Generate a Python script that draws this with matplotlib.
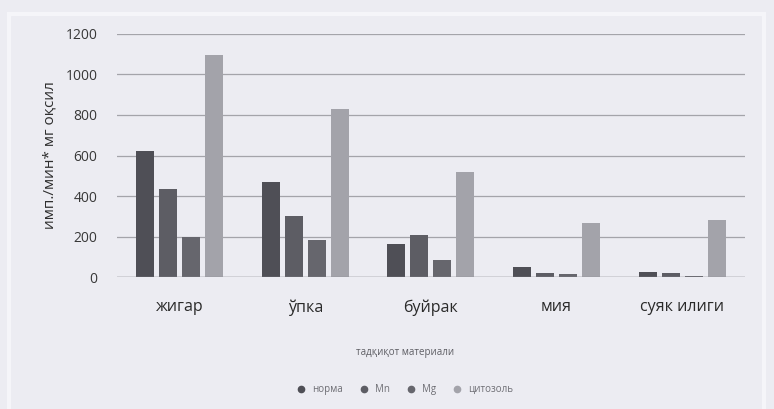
import matplotlib
matplotlib.use("Agg")
import matplotlib.pyplot as plt
from matplotlib.lines import Line2D
from matplotlib.patches import Rectangle
import numpy as np

plt.rcParams["font.family"] = ["Open Sans", "DejaVu Sans"]

# tissue samples along x, four treatment series
organs = ["жигар", "ўпка", "буйрак", "мия", "суяк илиги"]
series_names = ["норма", "Mn", "Mg", "цитозоль"]
norma = [620, 470, 165, 50, 25]
mn = [435, 300, 205, 20, 20]
mg = [200, 185, 85, 15, 5]
cytosol = [1095, 830, 520, 265, 280]
values = [norma, mn, mg, cytosol]
colors = ["#4f4f56", "#5d5d64", "#66666d", "#a3a3aa"]

BG = "#ececf2"

fig = plt.figure(figsize=(7.74, 4.09), dpi=100, facecolor=BG)

# faint frame of the chart area
fig.patches.append(Rectangle((0.012, -0.02), 0.975, 0.985, transform=fig.transFigure,
                             facecolor="none", edgecolor="#f5f5f9", linewidth=3))

ax = fig.add_axes([0.151, 0.3227, 0.8115, 0.5942], facecolor=BG)

x = np.arange(len(organs))
step = 0.183
width = 0.143
for i, (vals, c) in enumerate(zip(values, colors)):
    ax.bar(x + (i - 1.5) * step, vals, width, color=c, zorder=3)

ax.set_xlim(-0.5, len(organs) - 0.5)
ax.set_ylim(0, 1200)
ax.set_yticks(range(0, 1201, 200))
ax.yaxis.grid(True, color="#a4a4aa", linewidth=0.9, zorder=0)
ax.axhline(0, color="#8c8c92", linewidth=1.0, zorder=4)
for s in ax.spines.values():
    s.set_visible(False)
ax.tick_params(axis="both", length=0)
ax.tick_params(axis="y", labelsize=10, labelcolor="#383838", pad=14)
ax.tick_params(axis="x", labelsize=11.5, labelcolor="#2a2a2a", pad=16)
ax.set_xticks(x)
ax.set_xticklabels(organs)
ax.set_ylabel("имп./мин* мг оқсил", fontsize=11, color="#2e2e2e", labelpad=6)

# axis title and legend below the plot, small and faint
fig.text(0.523, 0.137, "тадқиқот материали", ha="center", va="center",
         fontsize=7, color="#5e5e64")
handles = [Line2D([], [], marker="o", linestyle="none", markersize=4.5,
                  markerfacecolor=c, markeredgecolor=c) for c in colors]
fig.legend(handles, series_names, loc="center", bbox_to_anchor=(0.52, 0.047),
           ncol=4, frameon=False, fontsize=7, labelcolor="#6e6e74",
           handletextpad=0.1, columnspacing=1.2)

fig.savefig("out.png", dpi=100, facecolor=BG)
